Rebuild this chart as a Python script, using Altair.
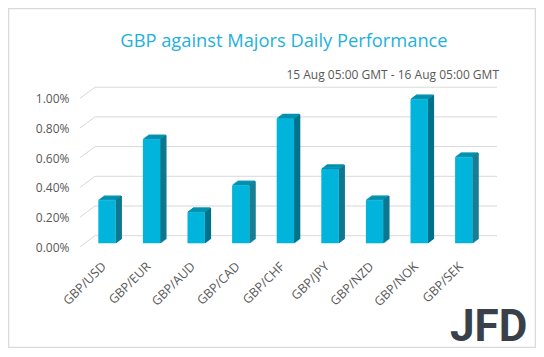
import altair as alt
import pandas as pd

pairs = ["GBP/USD", "GBP/EUR", "GBP/AUD", "GBP/CAD", "GBP/CHF",
         "GBP/JPY", "GBP/NZD", "GBP/NOK", "GBP/SEK"]
values = [0.29, 0.70, 0.21, 0.39, 0.84, 0.50, 0.29, 0.97, 0.58]
ticks = [0.0, 0.2, 0.4, 0.6, 0.8, 1.0]

title_text = "GBP against Majors Daily Performance"
subtitle_text = "15 Aug 05:00 GMT - 16 Aug 05:00 GMT"

FRONT = "#00b4dc"
TOP = "#0090ae"
SIDE = "#00728a"
GRID = "#d9d9d9"
TXT = "#595959"
FONT = "Open Sans"

BAR_W = 17.4
DEPTH_X = 6
DEPTH_Y = 4.5
N = 6

df = pd.DataFrame({"pair": pairs, "v": values})
gdf = pd.DataFrame({"t": ticks})

yscale = alt.Scale(domain=[0, 1], range=[163.3, 14.8], nice=False, zero=False)
xscale = alt.Scale(domain=pairs, range=[4.7, 406.1], paddingInner=0, paddingOuter=0)

X_noaxis = alt.X("pair:N", scale=xscale, sort=pairs, axis=None)

layers = []

back = alt.Chart(gdf).transform_calculate(
    tb="datum.t + 0.0512", tf="datum.t - 0.0236"
).mark_rule(color=GRID, strokeWidth=1).encode(
    x=alt.value(15), x2=alt.value(417),
    y=alt.Y("tb:Q", scale=yscale, axis=None),
)
diag = alt.Chart(gdf).transform_calculate(
    tb="datum.t + 0.0512", tf="datum.t - 0.0236"
).mark_rule(color=GRID, strokeWidth=1).encode(
    x=alt.value(0), x2=alt.value(15),
    y=alt.Y("tf:Q", scale=yscale, axis=None),
    y2=alt.Y2("tb:Q"),
)
layers += [back, diag]

base = alt.Chart(df)
step_x = DEPTH_X / N
step_y = DEPTH_Y / N
for k in range(N, 0, -1):
    layers.append(
        base.mark_bar(size=BAR_W, color=TOP,
                      xOffset=step_x * (k - 0.5), x2Offset=step_x * (k - 0.5),
                      yOffset=-step_y * (k - 1) + 0.3, y2Offset=-step_y * k - 0.3).encode(
            x=X_noaxis,
            y=alt.Y("v:Q", scale=yscale, axis=None),
            y2=alt.Y2("v:Q"),
        )
    )
for k in range(N, 0, -1):
    off = BAR_W / 2 + step_x * (k - 0.5)
    layers.append(
        base.mark_bar(size=step_x + 0.4, color=SIDE,
                      xOffset=off, x2Offset=off,
                      yOffset=-step_y * (k - 0.5), y2Offset=-step_y * (k - 0.5)).encode(
            x=X_noaxis,
            y=alt.Y("v:Q", scale=yscale, axis=None),
        )
    )
front = base.mark_bar(size=BAR_W, color=FRONT).encode(
    x=alt.X("pair:N", scale=xscale, sort=pairs, title=None,
            axis=alt.Axis(labelAngle=-45, labelAlign="right", labelBaseline="middle",
                          labelFont=FONT, labelFontSize=12.5, labelColor=TXT,
                          domain=False, ticks=False, tickSize=0, labelPadding=14,
                          labelOffset=-3, grid=False)),
    y=alt.Y("v:Q", scale=yscale, title=None,
            axis=alt.Axis(values=ticks, labelExpr="format(datum.value, '.2f') + '%'",
                          labelFont=FONT, labelFontSize=12, labelColor=TXT,
                          domain=False, ticks=False, tickSize=0, labelPadding=11,
                          labelOffset=4, grid=False)),
)
layers.append(front)

tdf = pd.DataFrame({"title": [title_text], "sub": [subtitle_text], "logo": ["JFD"]})
title = alt.Chart(tdf).mark_text(font=FONT, fontSize=18.3, color="#1eb1dc",
                                 align="center", baseline="alphabetic").encode(
    x=alt.value(204), y=alt.value(-33.5), text="title:N")
sub = alt.Chart(tdf).mark_text(font=FONT, fontSize=12, color=TXT,
                               align="right", baseline="middle").encode(
    x=alt.value(419), y=alt.value(-5), text="sub:N")
logo = alt.Chart(tdf).mark_text(font="Roboto", fontSize=44, fontWeight="bold",
                                color="#3a4049", align="left", baseline="alphabetic").encode(
    x=alt.value(370), y=alt.value(261), text="logo:N")
border = alt.Chart(tdf).mark_rect(fill=None, stroke=GRID, strokeWidth=1.5).encode(
    x=alt.value(-71.5), x2=alt.value(455.5), y=alt.value(-71.5), y2=alt.value(267.5))
layers += [title, sub, logo, border]

chart = alt.layer(*layers).resolve_axis(x="independent", y="independent").properties(
    width=420, height=170,
    padding={"left": 72, "top": 72, "right": 36, "bottom": 98},
    autosize=alt.AutoSizeParams(type="none"),
    background="white",
).configure_view(stroke=None)

chart.save("out.html", embed_options={"renderer": "svg", "actions": False})
